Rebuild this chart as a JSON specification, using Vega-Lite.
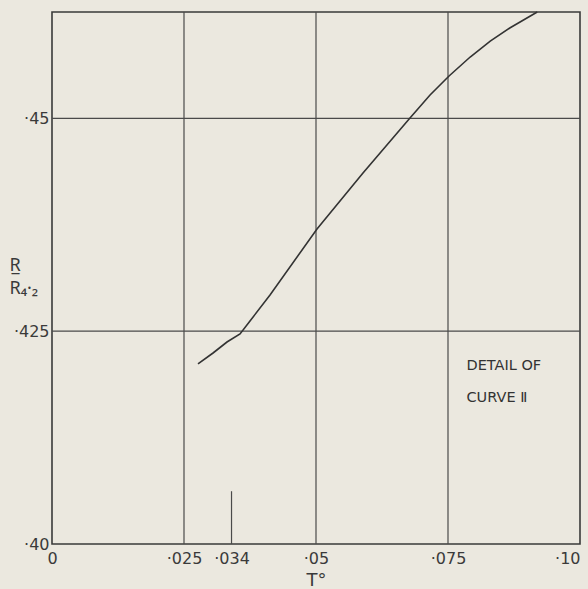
{
  "$schema": "https://vega.github.io/schema/vega-lite/v6.json",
  "width": 528,
  "height": 532,
  "autosize": {"type": "none"},
  "padding": {"left": 52, "top": 12, "right": 8, "bottom": 45},
  "background": "#ebe8df",
  "config": {
    "view": {"stroke": "#3a3a3a", "strokeWidth": 1.6},
    "font": "DejaVu Sans",
    "axis": {
      "grid": false,
      "ticks": false,
      "domain": false,
      "labelFont": "DejaVu Sans",
      "labelFontSize": 16,
      "labelColor": "#3a3a3a",
      "titleFont": "DejaVu Sans",
      "titleColor": "#3a3a3a",
      "titleFontWeight": "normal"
    }
  },
  "layer": [
    {
      "data": {"values": [{"x": 0.025}, {"x": 0.05}, {"x": 0.075}]},
      "mark": {"type": "rule", "color": "#4a4a4a", "strokeWidth": 1.2},
      "encoding": {"x": {"field": "x", "type": "quantitative", "scale": {"domain": [0, 0.1]}}}
    },
    {
      "data": {"values": [{"y": 0.425}, {"y": 0.45}]},
      "mark": {"type": "rule", "color": "#4a4a4a", "strokeWidth": 1.2},
      "encoding": {"y": {"field": "y", "type": "quantitative", "scale": {"domain": [0.4, 0.4625]}}}
    },
    {
      "data": {"values": [{"x": 0.034, "y": 0.4, "y2": 0.4062}]},
      "mark": {"type": "rule", "color": "#4a4a4a", "strokeWidth": 1.2},
      "encoding": {
        "x": {"field": "x", "type": "quantitative"},
        "y": {"field": "y", "type": "quantitative"},
        "y2": {"field": "y2"}
      }
    },
    {
      "data": {"values": [
        {"x": 0.02765, "y": 0.42115},
        {"x": 0.0305, "y": 0.42244},
        {"x": 0.03314, "y": 0.42373},
        {"x": 0.03561, "y": 0.42467},
        {"x": 0.0375, "y": 0.4262},
        {"x": 0.04129, "y": 0.42925},
        {"x": 0.05019, "y": 0.43701},
        {"x": 0.0589, "y": 0.44359},
        {"x": 0.0678, "y": 0.45005},
        {"x": 0.0716, "y": 0.45275},
        {"x": 0.0752, "y": 0.45498},
        {"x": 0.0792, "y": 0.45721},
        {"x": 0.0830, "y": 0.45909},
        {"x": 0.0867, "y": 0.46062},
        {"x": 0.0919, "y": 0.4625}
      ]},
      "mark": {"type": "line", "color": "#333333", "strokeWidth": 1.6},
      "encoding": {
        "x": {
          "field": "x", "type": "quantitative",
          "scale": {"domain": [0, 0.1], "nice": false, "zero": false},
          "axis": {
            "values": [0, 0.025, 0.034, 0.05, 0.075, 0.1],
            "labelExpr": "datum.value == 0 ? '0' : datum.value == 0.025 ? '·025' : datum.value == 0.034 ? '·034' : datum.value == 0.05 ? '·05' : datum.value == 0.075 ? '·075' : '·10'",
            "labelAlign": {"expr": "datum.value == 0.1 ? 'right' : 'center'"},
            "labelPadding": 6,
            "labelFlush": false,
            "title": "T°",
            "titleFontSize": 18,
            "titlePadding": 5
          }
        },
        "y": {
          "field": "y", "type": "quantitative",
          "scale": {"domain": [0.4, 0.4625], "nice": false, "zero": false},
          "axis": {
            "values": [0.4, 0.425, 0.45],
            "labelExpr": "datum.value == 0.4 ? '·40' : datum.value == 0.425 ? '·425' : '·45'",
            "labelPadding": 3,
            "labelFlush": false,
            "title": ["R̲", "R₄·₂"],
            "titleAngle": 0,
            "titleAlign": "left",
            "titleBaseline": "top",
            "titleFont": "Noto Sans",
            "titleFontSize": 18,
            "titleLineHeight": 23,
            "titleX": -43,
            "titleY": 244
          }
        }
      }
    },
    {
      "data": {"values": [
        {"x": 0.0785, "y": 0.4209, "t": "DETAIL OF"},
        {"x": 0.0785, "y": 0.4172, "t": "CURVE Ⅱ"}
      ]},
      "mark": {"type": "text", "align": "left", "baseline": "middle", "fontSize": 14.5, "color": "#333333", "font": "DejaVu Sans"},
      "encoding": {
        "x": {"field": "x", "type": "quantitative"},
        "y": {"field": "y", "type": "quantitative"},
        "text": {"field": "t"}
      }
    }
  ]
}
